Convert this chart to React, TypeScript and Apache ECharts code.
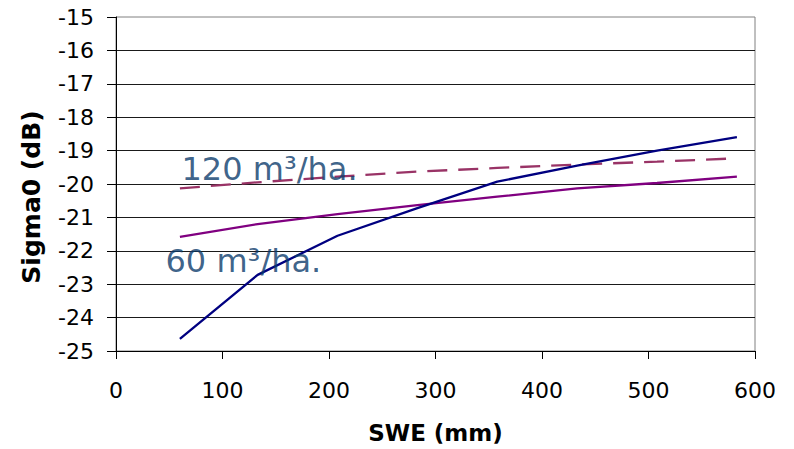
import React, { useEffect, useRef } from "react";
import * as echarts from "echarts";

const sweX = [60, 133, 208, 283, 358, 433, 508, 583];
const blueSeries = [-24.64, -22.72, -21.55, -20.72, -19.93, -19.45, -19.0, -18.6];
const purpleSeries = [-21.58, -21.2, -20.9, -20.63, -20.38, -20.13, -19.97, -19.78];
const dashedSeries = [-20.13, -19.95, -19.78, -19.63, -19.52, -19.42, -19.33, -19.23];

const annotX = [61, 46];
const annotY = [-19.55, -22.32];
const annotText = ["120 m³/ha.", "60 m³/ha."];

const xTitle = "SWE (mm)";
const yTitle = "Sigma0 (dB)";

const FONT = "DejaVu Sans";

export default function App() {
  const ref = useRef<HTMLDivElement>(null);
  useEffect(() => {
    if (!ref.current) return;
    const chart = echarts.init(ref.current, null, { renderer: "svg" });
    const pair = (ys: number[]) => sweX.map((x, i) => [x, ys[i]]);
    chart.setOption({
      animation: false,
      grid: {
        left: 116,
        right: 39,
        top: 17,
        bottom: 98,
        show: true,
        borderColor: "#808080",
        borderWidth: 1,
      },
      xAxis: {
        type: "value",
        min: 0,
        max: 600,
        interval: 100,
        name: xTitle,
        nameLocation: "middle",
        nameGap: 70,
        nameTextStyle: { fontFamily: FONT, fontSize: 23, fontWeight: "bold", color: "#000" },
        axisLine: { show: true, lineStyle: { color: "#000", width: 1 } },
        axisTick: { show: true, length: 8, lineStyle: { color: "#000" } },
        axisLabel: { fontFamily: FONT, fontSize: 22, color: "#000", margin: 28 },
        splitLine: { show: false },
      },
      yAxis: {
        type: "value",
        min: -25,
        max: -15,
        interval: 1,
        name: yTitle,
        nameLocation: "middle",
        nameGap: 72,
        nameRotate: 90,
        nameTextStyle: {
          fontFamily: FONT,
          fontSize: 25,
          fontWeight: "bold",
          color: "#000",
          padding: [0, 26, 0, 0],
        },
        axisLine: { show: true, lineStyle: { color: "#000", width: 1 } },
        axisTick: { show: true, length: 9, lineStyle: { color: "#000" } },
        axisLabel: { fontFamily: FONT, fontSize: 22, color: "#000", margin: 22 },
        splitLine: {
          show: true,
          showMaxLine: false,
          lineStyle: { color: "#1a1a1a", width: 1 },
        },
      },
      series: [
        {
          type: "line",
          name: "purple",
          data: pair(purpleSeries),
          symbol: "none",
          lineStyle: { color: "#800080", width: 2.3 },
        },
        {
          type: "line",
          name: "dashed",
          data: pair(dashedSeries),
          symbol: "none",
          lineStyle: { color: "#993366", width: 2.3, type: [20, 11] },
        },
        {
          type: "line",
          name: "blue",
          data: pair(blueSeries),
          symbol: "none",
          lineStyle: { color: "#000080", width: 2.3 },
        },
        {
          type: "scatter",
          name: "labels",
          silent: true,
          symbolSize: 1,
          itemStyle: { color: "transparent" },
          data: annotX.map((x, i) => ({ value: [x, annotY[i]], name: annotText[i] })),
          label: {
            show: true,
            position: "right",
            distance: 0,
            formatter: (p: any) => p.name,
            fontFamily: FONT,
            fontSize: 32,
            color: "#0b3b6b",
          },
          z: 10,
        },
      ],
    });
    return () => chart.dispose();
  }, []);
  return (
    <div
      ref={ref}
      style={{ position: "fixed", left: 0, top: 0, width: 794, height: 449, background: "#fff" }}
    />
  );
}
